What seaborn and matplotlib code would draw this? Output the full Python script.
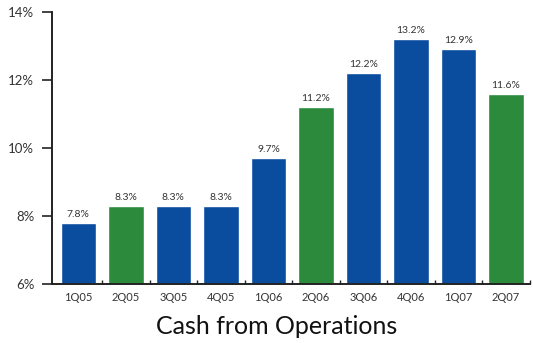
import matplotlib
matplotlib.use("Agg")
import matplotlib.pyplot as plt
import seaborn as sns
import pandas as pd

quarters = ["1Q05", "2Q05", "3Q05", "4Q05", "1Q06", "2Q06", "3Q06", "4Q06", "1Q07", "2Q07"]
cash_pct = [7.8, 8.3, 8.3, 8.3, 9.7, 11.2, 12.2, 13.2, 12.9, 11.6]
y_ticks = [6, 8, 10, 12, 14]

BLUE = "#0a4c9e"
GREEN = "#2b8a3c"
bar_colors = [GREEN if q.startswith("2Q") else BLUE for q in quarters]

df = pd.DataFrame({"quarter": quarters, "pct": cash_pct})

sns.set_theme(style="white")
plt.rcParams["font.family"] = ["Lato", "DejaVu Sans"]

fig = plt.figure(figsize=(5.33, 3.43), dpi=100)
ax = fig.add_axes([0.098, 0.172, 0.896, 0.793])

sns.barplot(data=df, x="quarter", y="pct", hue="quarter", palette=bar_colors,
            width=0.75, legend=False, ax=ax, saturation=1)

ax.set_ylim(6, 14)
ax.set_xlim(-0.55, 9.45)
ax.set_yticks(y_ticks)
ax.set_yticklabels([f"{v}%" for v in y_ticks], fontsize=9.5, color="#333333")
ax.set_xticks(range(len(quarters)))
ax.set_xticklabels(quarters, fontsize=8, color="#333333")
ax.tick_params(axis="x", length=0, pad=6)
ax.tick_params(axis="y", length=7, width=1.2, color="#222222", left=True, direction="out", pad=6)
ax.set_xticks([i + 0.5 for i in range(len(quarters))], minor=True)
ax.tick_params(axis="x", which="minor", length=3, direction="in", bottom=True, color="#222222")

for side in ["top", "right"]:
    ax.spines[side].set_visible(False)
for side in ["left", "bottom"]:
    ax.spines[side].set_color("#222222")
    ax.spines[side].set_linewidth(1.4)

for i, v in enumerate(cash_pct):
    ax.text(i, v + 0.12, f"{v:.1f}%", ha="center", va="bottom", fontsize=7.5, color="#333333")

ax.set_xlabel("")
ax.set_ylabel("")
fig.text(0.519, 0.015, "Cash from Operations", ha="center", va="bottom",
         fontsize=18, color="#111111")

fig.savefig("out.png", dpi=100)
